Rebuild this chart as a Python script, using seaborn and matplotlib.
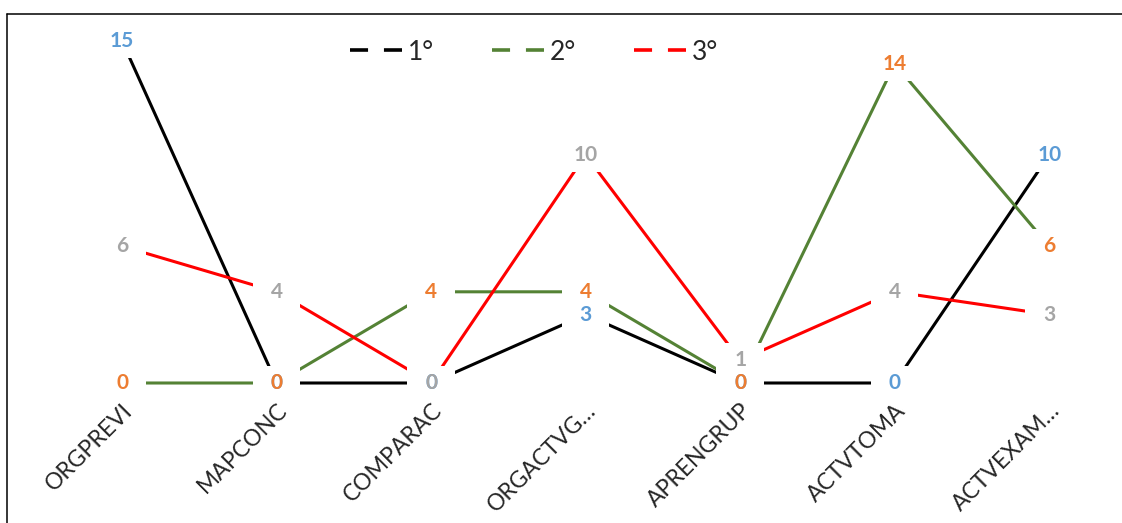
import numpy as np
import pandas as pd
import matplotlib
matplotlib.use('Agg')
import matplotlib.pyplot as plt
from matplotlib.lines import Line2D
import seaborn as sns

# data
categorias = ["ORGPREVI", "MAPCONC", "COMPARAC", "ORGACTVG…", "APRENGRUP", "ACTVTOMA", "ACTVEXAM…"]
serie_1 = [15, 0, 0, 3, 0, 0, 10]
serie_2 = [0, 0, 4, 4, 0, 14, 6]
serie_3 = [6, 4, 0, 10, 1, 4, 3]
nombres = ["1°", "2°", "3°"]

colores_linea = ["#000000", "#548235", "#FF0000"]
colores_etiqueta = ["#5B9BD5", "#ED7D31", "#A5A5A5"]

series = [serie_1, serie_2, serie_3]
df = pd.DataFrame({
    "categoria": categorias * 3,
    "valor": serie_1 + serie_2 + serie_3,
    "serie": [n for n in nombres for _ in categorias],
})

sns.set_style("white")
plt.rcParams['font.family'] = ['Lato', 'DejaVu Sans']

fig = plt.figure(figsize=(11.22, 5.23), dpi=100)
W, H = 1122, 523
# axes: x slots of ~154.5 px centred on 122..1049, value 0 at y=383, 22.8 px per unit
ax = fig.add_axes([44.75 / W, (H - 383) / H, 1 - 44.75 / W + 0.004, 16 * 22.8 / H])

sns.lineplot(data=df, x="categoria", y="valor", hue="serie", palette=colores_linea,
             sort=False, legend=False, linewidth=2.2, ax=ax, zorder=2)
for l in ax.lines:
    l.set_solid_capstyle('butt')
    l.set_clip_on(False)

ax.set_xlim(-0.5, 6.5)
ax.set_ylim(0, 16)
ax.set_xlabel("")
ax.set_ylabel("")
ax.set_yticks([])
ax.set_xticks(range(len(categorias)))
ax.set_xticklabels(categorias, rotation=45, ha='right', rotation_mode='anchor', fontsize=16.5)
ax.tick_params(axis='x', length=0, pad=12)
sns.despine(ax=ax, left=True, bottom=True, top=True, right=True)
ax.patch.set_alpha(0)

# data labels: white boxes (below all texts) cut the lines, then the numbers on top
for k, vals in enumerate(series):
    for i, v in enumerate(vals):
        ax.text(i, v, str(v), ha='center', va='center', fontsize=15, fontweight='bold',
                color='white', zorder=3, clip_on=False,
                bbox=dict(boxstyle='square,pad=0.85', fc='white', ec='none', mutation_aspect=0.4))
for k, vals in enumerate(series):
    for i, v in enumerate(vals):
        ax.text(i, v, str(v), ha='center', va='center', fontsize=15, fontweight='bold',
                color=colores_etiqueta[k], zorder=5 + k, clip_on=False)

handles = [Line2D([], [], color=c, lw=2.6, ls=(0, (5.0, 4.4)), solid_capstyle='butt', dash_capstyle='butt')
           for c in colores_linea]
fig.legend(handles, nombres, loc='center', bbox_to_anchor=(534 / W, 1 - 52 / H), ncol=3,
           frameon=False, fontsize=19, handlelength=2.1, handletextpad=0.1, columnspacing=2.2)

# outer frame (only left and top edges visible)
fig.add_artist(Line2D([7 / W, 7 / W], [0, 1 - 14 / H], color='black', lw=1.1, transform=fig.transFigure))
fig.add_artist(Line2D([7 / W, 1], [1 - 14 / H, 1 - 14 / H], color='black', lw=1.1, transform=fig.transFigure))

fig.savefig("out.png", dpi=100)
